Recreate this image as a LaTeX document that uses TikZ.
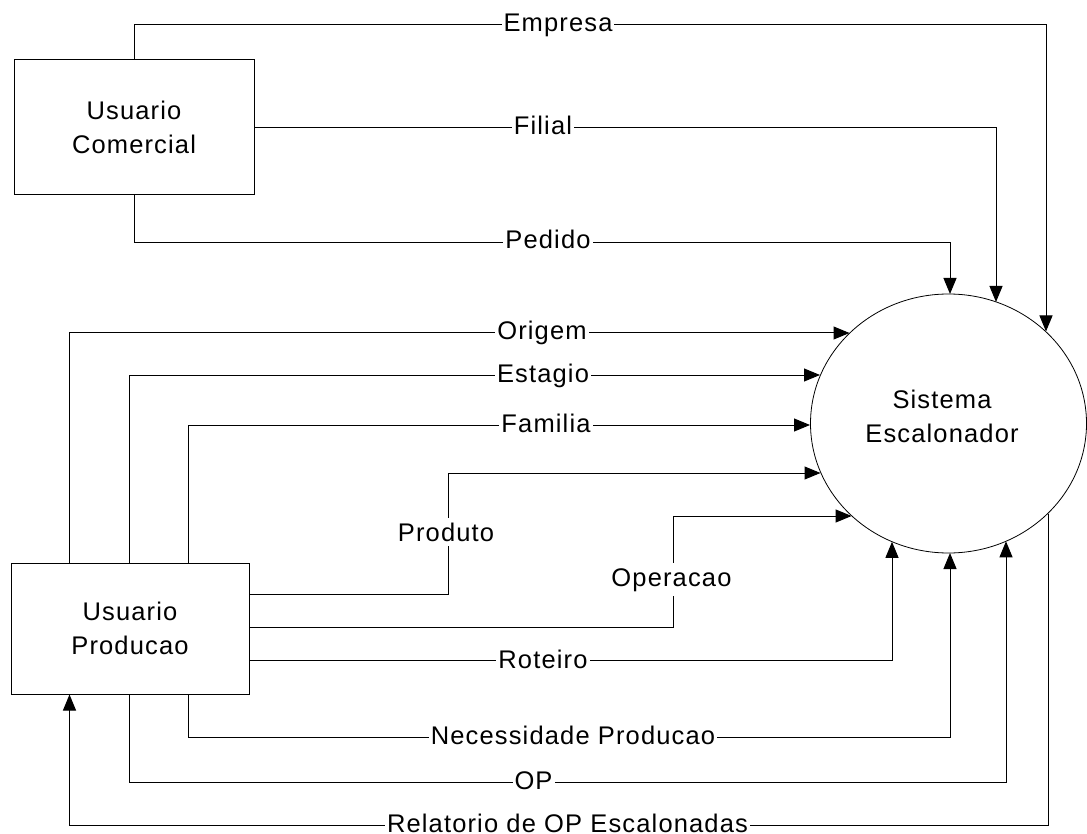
\documentclass[tikz,border=0pt]{standalone}
\usepackage{fontspec}
\setmainfont{Liberation Sans}[LetterSpace=4.5]
\usetikzlibrary{arrows.meta,shapes.geometric}
\begin{document}
\begin{tikzpicture}[x=1pt,y=-1pt,
  txt/.style={font=\fontsize{25.5}{34}\selectfont},
  flow/.style={draw=black,line width=1pt},
  arr/.style={flow,-{Triangle[length=16pt,width=13pt]}},
  entity/.style={draw=black,line width=1pt,rectangle,align=center,txt},
  lbl/.style={fill=white,inner xsep=2pt,inner ysep=0pt,text height=14pt,text depth=0pt,txt},
  vlbl/.style={fill=white,inner xsep=2pt,inner ysep=5pt,anchor=base,txt}]
\useasboundingbox (0,0) rectangle (1087,834);
% nodes
\node[entity,minimum width=240,minimum height=135] (uc) at (134,127.5) {Usuario\\Comercial};
\node[entity,minimum width=238,minimum height=131] (up) at (130,628.5) {Usuario\\Producao};
\node[draw=black,line width=0.8pt,ellipse,minimum width=276,minimum height=259,inner sep=0pt] (se) at (948.5,423.5) {};
\node[align=center,txt] (set) at (942,416) {Sistema\\Escalonador};
% contact points on the ellipse
\coordinate (eEmp) at (1046,331.5);
\coordinate (eFil) at (996,302);
\coordinate (ePed) at (950,294);
\coordinate (eOri) at (849.5,333);
\coordinate (eEst) at (820,375);
\coordinate (eFam) at (810,425);
\coordinate (ePro) at (820.5,473);
\coordinate (eOpe) at (851.6,516);
\coordinate (eRot) at (892,541.8);
\coordinate (eNec) at (950,553);
\coordinate (eOP) at (1006,541.3);
\coordinate (eRel) at (1048,513.6);
% connectors
\draw[arr] (uc.north) -- ++(0,-35) -| (eEmp);
\draw[arr] (uc.east) -| (eFil);
\draw[arr] (uc.south) -- ++(0,47) -| (ePed);
\draw[arr] ([xshift=59pt]up.north west) |- (eOri);
\draw[arr] ([xshift=119pt]up.north west) |- (eEst);
\draw[arr] ([xshift=178pt]up.north west) |- (eFam);
\draw[arr] ([yshift=-32pt]up.north east) -- ++(199,0) |- (ePro);
\draw[arr] ([yshift=-65pt]up.north east) -- ++(424,0) |- (eOpe);
\draw[arr] ([yshift=-98pt]up.north east) -| (eRot);
\draw[arr] ([xshift=178pt]up.south west) -- ++(0,43) -| (eNec);
\draw[arr] ([xshift=119pt]up.south west) -- ++(0,88) -| (eOP);
\draw[arr] (eRel) -- ++(0,311.4) -| ([xshift=59pt]up.south west);
% labels
\node[lbl] (lEmp) at (558,25) {Empresa};
\node[lbl] (lFil) at (543,127.5) {Filial};
\node[lbl] (lPed) at (548,242) {Pedido};
\node[lbl] (lOri) at (542,333) {Origem};
\node[lbl] (lEst) at (543,375) {Estagio};
\node[lbl] (lFam) at (546,425) {Familia};
\node[vlbl] (lPro) at (446,541) {Produto};
\node[vlbl] (lOpe) at (671.5,586) {Operacao};
\node[lbl] (lRot) at (543,661) {Roteiro};
\node[lbl] (lNec) at (573,737) {Necessidade Producao};
\node[lbl] (lOP) at (533.5,782) {OP};
\node[lbl] (lRel) at (567.5,825) {Relatorio de OP Escalonadas};
\end{tikzpicture}
\end{document}
